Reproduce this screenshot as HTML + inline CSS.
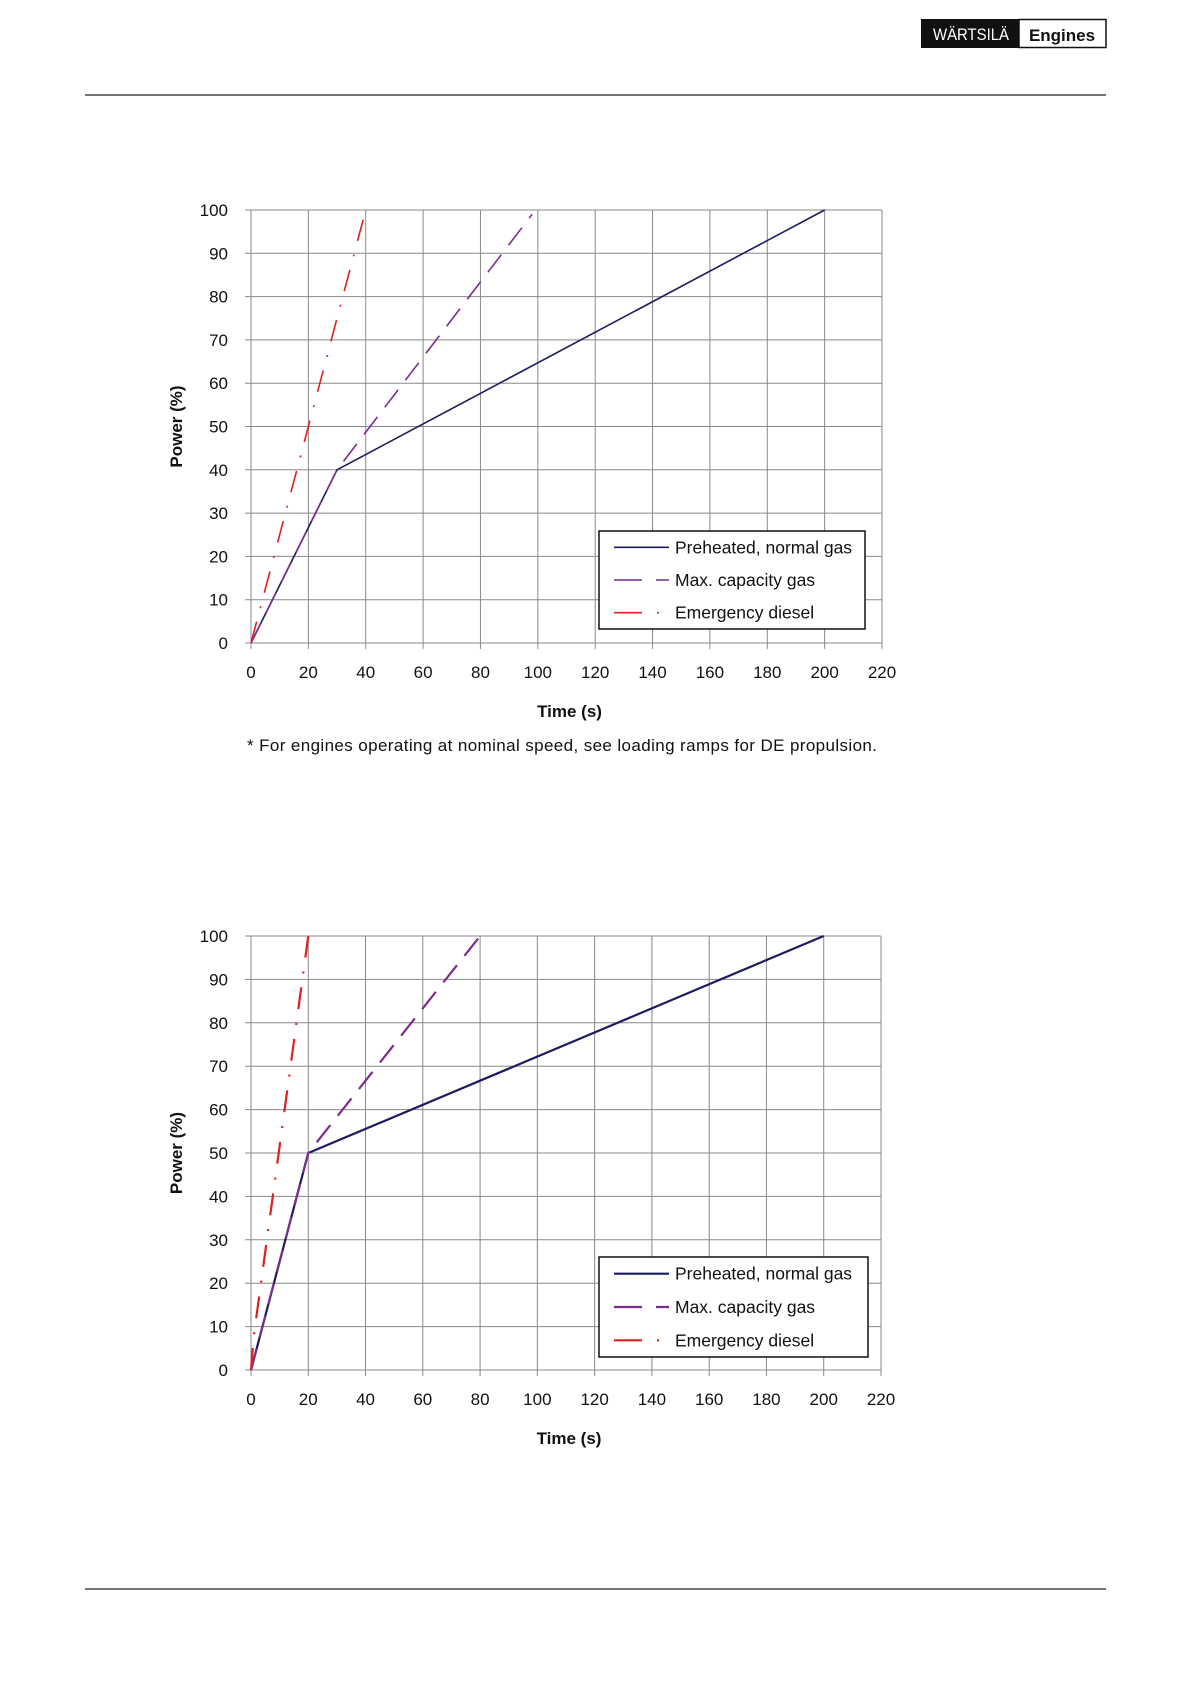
<!DOCTYPE html>
<html><head><meta charset="utf-8"><style>
body{margin:0;background:#fff;}
svg{display:block;font-family:"Liberation Sans",sans-serif;}
</style></head><body>
<svg id="s" width="1191" height="1684" viewBox="0 0 1191 1684">
<g>
<rect x="921" y="19" width="98" height="29" fill="#111"/>
<rect x="1019" y="19.5" width="87" height="28" fill="#fff" stroke="#111" stroke-width="1.5"/>
<text x="933" y="40" font-size="17" fill="#fff" textLength="76" lengthAdjust="spacingAndGlyphs">WÄRTSILÄ</text>
<text x="1062" y="41" font-size="17" font-weight="bold" fill="#111" text-anchor="middle">Engines</text>
</g>
<line x1="85" y1="95" x2="1106" y2="95" stroke="#222" stroke-width="1.3"/>
<line x1="85" y1="1589" x2="1106" y2="1589" stroke="#222" stroke-width="1.3"/>
<text x="247" y="751" font-size="17" fill="#111" textLength="630">* For engines operating at nominal speed, see loading ramps for DE propulsion.</text>
</svg>
<script>
const xTicks=[0,20,40,60,80,100,120,140,160,180,200,220];
const yTicks=[0,10,20,30,40,50,60,70,80,90,100];
const seriesNames=["Preheated, normal gas","Max. capacity gas","Emergency diesel"];
const c1PreX=[0,30,200], c1PreY=[0,40,100];
const c1MaxX=[0,30,98], c1MaxY=[0,40,99];
const c1EmX=[0,20,40], c1EmY=[0,50,100];
const c2PreX=[0,20,200], c2PreY=[0,50,100];
const c2MaxX=[0,20,80], c2MaxY=[0,50,100];
const c2EmX=[0,1,20], c2EmY=[0,8,100];
const NS="http://www.w3.org/2000/svg";
const svg=document.getElementById('s');
function mk(t,a,p){const e=document.createElementNS(NS,t);for(const k in a)e.setAttribute(k,a[k]);(p||svg).appendChild(e);return e;}
function chart(name,L,R,T,B,series,leg,lw){
 const g=mk('g',{});
 
 
 const sx=v=>L+(v-0)/220*(R-L), sy=v=>B-(v/100)*(B-T);
 xTicks.forEach(v=>{const l=mk('line',{x1:sx(v),x2:sx(v),y1:T,y2:B+6,stroke:'#888','stroke-width':1},g);
  
  
  const t=mk('text',{x:sx(v),y:B+35,'font-size':17,'text-anchor':'middle',fill:'#111'},g);t.textContent=v;
  
  });
 yTicks.forEach(v=>{const l=mk('line',{x1:L-6,x2:R,y1:sy(v),y2:sy(v),stroke:'#888','stroke-width':1},g);
  
  
  const t=mk('text',{x:L-23,y:sy(v)+6,'font-size':17,'text-anchor':'end',fill:'#111'},g);t.textContent=v;
  
  });
 const yt=mk('text',{x:0,y:0,'font-size':17,'font-weight':'bold','text-anchor':'middle',fill:'#111',transform:`translate(182,${(T+B)/2}) rotate(-90)`},g);yt.textContent='Power (%)';
 
 
 const xt=mk('text',{x:(L+R)/2+3,y:B+74,'font-size':17,'font-weight':'bold','text-anchor':'middle',fill:'#111'},g);xt.textContent='Time (s)';
 
 
 const styles=[{c:'#1c1c5e',d:'none'},{c:'#7b2d8e',d:'22 12'},{c:'#e02020',d:'22 14 2 14'}];
 series.forEach((s,i)=>{const pts=s[0].map((x,j)=>sx(x)+','+sy(s[1][j])).join(' ');
  const p=mk('polyline',{points:pts,fill:'none',stroke:styles[i].c,'stroke-width':lw,'stroke-dasharray':styles[i].d},g);
  
  });
 const lg=mk('g',{},g);
 
 
 mk('rect',{x:leg[0],y:leg[1],width:leg[2]-leg[0],height:leg[3]-leg[1],fill:'#fff',stroke:'#111','stroke-width':1.5},lg);
 const rh=(leg[3]-leg[1])/3;
 seriesNames.forEach((n,i)=>{const y=leg[1]+rh*(i+0.5);
  const e=mk('g',{},lg);
  
  
  mk('line',{x1:leg[0]+15,x2:leg[0]+70,y1:y,y2:y,stroke:styles[i].c,'stroke-width':lw,'stroke-dasharray':i==0?'none':(i==1?'28 14 13 20':'28 15 2 30')},e);
  const t=mk('text',{x:leg[0]+76,y:y+6,'font-size':17.5,fill:'#111'},e);t.textContent=n;});
}
chart('chart-top',251,882,210,643,[[c1PreX,c1PreY],[c1MaxX,c1MaxY],[c1EmX,c1EmY]],[599,531,865,629],1.6);
chart('chart-bottom',251,881,936,1370,[[c2PreX,c2PreY],[c2MaxX,c2MaxY],[c2EmX,c2EmY]],[599,1257,868,1357],2.2);
</script>
</body></html>
